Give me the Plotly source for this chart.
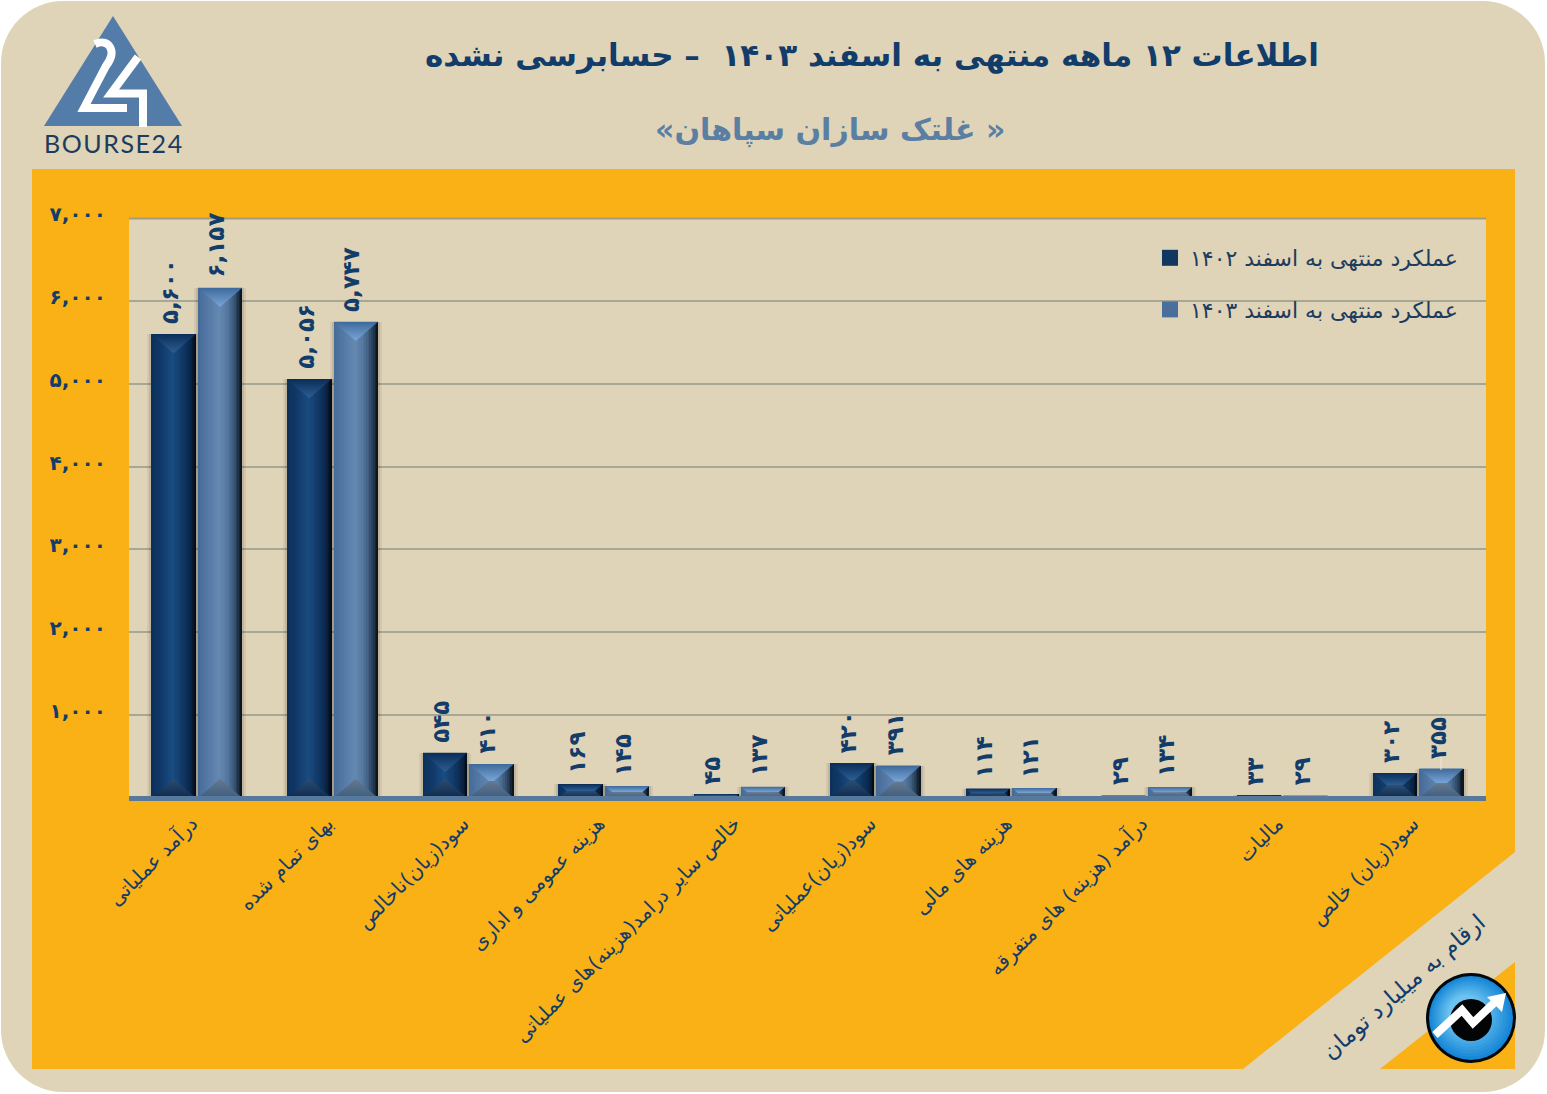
import plotly.graph_objects as go

# ---- data ----
categories = ["درآمد عملیاتی", "بهای تمام شده", "سود(زیان)ناخالص", "هزینه عمومی و اداری",
              "خالص سایر درامد(هزینه)های عملیاتی", "سود(زیان)عملیاتی", "هزینه های مالی",
              "درآمد (هزینه) های متفرقه", "مالیات", "سود(زیان) خالص"]
values_1402 = [5600, 5056, 545, 169, 45, 420, 114, 29, 33, 302]
values_1403 = [6157, 5747, 410, 145, 137, 391, 121, 134, 29, 355]
labels_1402 = ["۵,۶۰۰", "۵,۰۵۶", "۵۴۵", "۱۶۹", "۴۵", "۴۲۰", "۱۱۴", "۲۹", "۳۳", "۳۰۲"]
labels_1403 = ["۶,۱۵۷", "۵,۷۴۷", "۴۱۰", "۱۴۵", "۱۳۷", "۳۹۱", "۱۲۱", "۱۳۴", "۲۹", "۳۵۵"]
y_tick_values = [1000, 2000, 3000, 4000, 5000, 6000, 7000]
y_tick_labels = ["۱,۰۰۰", "۲,۰۰۰", "۳,۰۰۰", "۴,۰۰۰", "۵,۰۰۰", "۶,۰۰۰", "۷,۰۰۰"]
name_1402 = "عملکرد منتهی به اسفند ۱۴۰۲"
name_1403 = "عملکرد منتهی به اسفند ۱۴۰۳"
title_text = "اطلاعات ۱۲ ماهه منتهی به اسفند ۱۴۰۳  – حسابرسی نشده"
subtitle_text = "\u200f« غلتک سازان سپاهان»\u200f"
unit_text = "ارقام به میلیارد تومان"

# ---- page geometry ----
W, H = 1547, 1094
L, R, T, B = 129, 1486, 218, 798
BEIGE, ORANGE, NAVY, STEEL = "#dfd3b8", "#f9b116", "#123c69", "#56799c"
FONT = "DejaVu Sans"
def fx(x): return (x - L) / (R - L)
def fy(y): return (B - y) / (B - T)
def P(*pts):
    return "M" + " L".join(f"{fx(x):.5f},{fy(y):.5f}" for x, y in pts)
def poly(*pts): return P(*pts) + " Z"
def shape(path, fill="rgba(0,0,0,0)", line=None, lw=0):
    return dict(type="path", xref="paper", yref="paper", path=path, fillcolor=fill,
                line=dict(color=line or "rgba(0,0,0,0)", width=lw), layer="below")
def circle(cx, cy, r, fill):
    return dict(type="circle", xref="paper", yref="paper", x0=fx(cx - r), x1=fx(cx + r),
                y0=fy(cy + r), y1=fy(cy - r), fillcolor=fill, line=dict(width=0), layer="above")
def hexrgb(c): return [int(c[i:i + 2], 16) for i in (1, 3, 5)]
def mix(stops, t):
    for (a, ca), (b, cb) in zip(stops, stops[1:]):
        if a <= t <= b:
            k = (t - a) / (b - a)
            return "#%02x%02x%02x" % tuple(round(p + (q - p) * k) for p, q in zip(hexrgb(ca), hexrgb(cb)))
    return stops[-1][1]

def rounded(x0, y0, x1, y1, r):
    c = r * 0.45
    pts = [("M", x0 + r, y0), ("L", x1 - r, y0), ("C", x1 - c, y0, x1, y0 + c, x1, y0 + r),
           ("L", x1, y1 - r), ("C", x1, y1 - c, x1 - c, y1, x1 - r, y1), ("L", x0 + r, y1),
           ("C", x0 + c, y1, x0, y1 - c, x0, y1 - r), ("L", x0, y0 + r),
           ("C", x0, y0 + c, x0 + c, y0, x0 + r, y0)]
    out = ""
    for p in pts:
        coords = p[1:]
        s = " ".join(f"{fx(coords[i]):.5f},{fy(coords[i+1]):.5f}" for i in range(0, len(coords), 2))
        out += f"{p[0]}{s} "
    return out + "Z"

shapes = [
    shape(rounded(1, 1, 1545, 1092, 62), BEIGE),
    shape(poly((32, 169), (1515, 169), (1515, 1069), (32, 1069)), ORANGE),
    shape(poly((1515, 852), (1243, 1069), (1380, 1069), (1515, 962)), BEIGE),
    shape(poly((L, T), (R, T), (R, B), (L, B)), BEIGE),
    shape(P((L, T + .5), (R, T + .5)), line="#a39d80", lw=2),
    # logo
    shape(poly((113, 16), (182, 126), (44, 126)), "#537ca8"),
    shape(f"M{fx(95):.5f},{fy(44):.5f} C{fx(108):.5f},{fy(38):.5f} {fx(118):.5f},{fy(50):.5f} {fx(106):.5f},{fy(66):.5f} "
          f"L{fx(84):.5f},{fy(108):.5f} L{fx(127):.5f},{fy(108):.5f}", line="#ffffff", lw=8),
    shape(P((138, 57), (111, 93.5), (147, 93.5)), line="#ffffff", lw=8),
    shape(P((143, 90), (143, 127)), line="#ffffff", lw=8),
    # baseline thickening that covers the feet of the bars
    dict(type="rect", xref="paper", yref="paper", x0=0, x1=1, y0=fy(798.5), y1=fy(796),
         fillcolor=STEEL, line=dict(width=0), layer="above"),
    # small leader line of the last label
    dict(type="line", xref="paper", yref="paper", x0=fx(1441), x1=fx(1441), y0=fy(770), y1=fy(757),
         line=dict(color="#efe9da", width=1), layer="above"),
    # icon
    circle(1471, 1018, 45, "#04070b"),
]
icon_stops = [(0, "#6cc3ef"), (1, "#1787d8")]
for k in range(10):
    t = k / 9
    r = 42 - 24 * t
    shapes.append(circle(1471 - 5 * t, 1018 - 5 * t, r, mix(icon_stops, 1 - t)))
shapes += [
    circle(1471, 1020, 21, "#030405"),
    dict(type="path", xref="paper", yref="paper", layer="above", fillcolor="rgba(0,0,0,0)",
         path=P((1435, 1035), (1462, 1010), (1473, 1023), (1496, 1001)), line=dict(color="#ffffff", width=8)),
    dict(type="path", xref="paper", yref="paper", layer="above", fillcolor="#ffffff",
         path=poly((1487, 997), (1506, 993), (1502, 1012)), line=dict(width=0)),
]

# ---- bars ----
PX = 7000 / (B - T)              # data units per pixel
UNIT = (R - L) / len(categories) # pixels per category
BAR_W = 44.5 / UNIT
OFFSET = 23.25 / UNIT
N_STRIPS = 26

styles = {
    "1402": dict(stops=[(0, "#0c2f59"), (.25, "#113b6c"), (.48, "#1a4c80"), (.68, "#113a69"),
                        (.84, "#0b2a50"), (.93, "#081c36"), (1, "#040a14")],
                 top=("#2d5f94", "#0a2d58"), bottom=("#0d2a4e", "#2c4d70")),
    "1403": dict(stops=[(0, "#456a97"), (.25, "#567ba7"), (.48, "#6588b1"), (.66, "#54789f"),
                        (.8, "#3b5a7c"), (.9, "#203549"), (1, "#080f18")],
                 top=("#7aa5d8", "#3e6a9b"), bottom=("#3d5d80", "#66798f")),
}

fig = go.Figure()

def add_series(vals, sign, style):
    xs = [i + sign * OFFSET for i in range(len(vals))]
    # soft shadow
    for extra, alpha in ((8, .05), (4, .09)):
        fig.add_bar(x=xs, y=vals, width=(44.5 + extra) / UNIT, marker=dict(color=f"rgba(0,0,0,{alpha})", line_width=0),
                    showlegend=False, hoverinfo="skip")
    # horizontal shading of the bar body
    for k in range(N_STRIPS):
        start = k / N_STRIPS
        colour = mix(style["stops"], start + .5 / N_STRIPS)
        fig.add_bar(x=[x + (start + (1 - start) / 2 - .5) * BAR_W for x in xs], y=vals,
                    width=(1 - start) * BAR_W, marker=dict(color=colour, line_width=0),
                    showlegend=False, hoverinfo="skip")
    # bevelled facets at the top and bottom of each bar, derived from its value
    half = BAR_W / 2
    for x, v in zip(xs, vals):
        h_px = v / PX
        d_px = min(19, h_px / 2)
        dy = d_px * PX
        dx = d_px * 22 / 19 / UNIT
        scale_top = [[0, style["top"][0]], [1, style["top"][1]]]
        scale_bot = [[0, style["bottom"][0]], [1, style["bottom"][1]]]
        fig.add_scatter(x=[x - half, x + half, x + half - dx, x - half + dx, x - half],
                        y=[v, v, v - dy, v - dy, v], mode="none", fill="toself",
                        fillgradient=dict(type="vertical", colorscale=scale_top),
                        showlegend=False, hoverinfo="skip")
        fig.add_scatter(x=[x - half, x + half, x + half - dx, x - half + dx, x - half],
                        y=[0, 0, dy, dy, 0], mode="none", fill="toself",
                        fillgradient=dict(type="vertical", colorscale=scale_bot),
                        showlegend=False, hoverinfo="skip")

add_series(values_1402, -1, styles["1402"])
add_series(values_1403, +1, styles["1403"])

# legend entries
fig.add_scatter(x=[None], y=[None], mode="markers", name=name_1402, legendgroup="a",
                marker=dict(symbol="square", size=16, color="#12365f"))
fig.add_scatter(x=[None], y=[None], mode="markers", name=name_1403, legendgroup="b",
                marker=dict(symbol="square", size=16, color="#4a6f9c"))

# value labels
annotations = []
for vals, labels, sign in ((values_1402, labels_1402, -1), (values_1403, labels_1403, 1)):
    for i, (v, t) in enumerate(zip(vals, labels)):
        annotations.append(dict(x=i + sign * OFFSET, y=v, xref="x", yref="y", text=t, textangle=-90,
                                showarrow=False, yanchor="bottom", xanchor="center", yshift=8, xshift=-4,
                                font=dict(family=FONT, size=23, color=NAVY, weight="bold")))

annotations += [
    dict(x=fx(830), y=fy(130), xref="paper", yref="paper", text=subtitle_text, showarrow=False,
         xanchor="center", yanchor="middle",
         font=dict(family=FONT, size=30, color="#5b7fa3", weight="bold")),
    dict(x=fx(113), y=fy(143), xref="paper", yref="paper", text="\u200a".join("BOURSE24"), showarrow=False,
         xanchor="center", yanchor="middle",
         font=dict(family="Lato", size=25, color="#1d3c5c")),
    dict(x=fx(1403), y=fy(987), xref="paper", yref="paper", text=unit_text, showarrow=False, textangle=-41,
         xanchor="center", yanchor="middle",
         font=dict(family=FONT, size=23, color=NAVY)),
]

fig.update_layout(
    width=W, height=H, barmode="overlay", bargap=0,
    margin=dict(l=L, r=W - R, t=T, b=H - B, pad=0, autoexpand=False),
    paper_bgcolor="#ffffff", plot_bgcolor="rgba(0,0,0,0)",
    shapes=shapes, annotations=annotations,
    title=dict(text=title_text, xref="container", yref="container", x=872 / W, y=1 - 55 / H,
               xanchor="center", yanchor="middle", font=dict(family=FONT, size=31, color=NAVY, weight="bold")),
    xaxis=dict(range=[-.5, 9.5], tickmode="array", tickvals=list(range(10)), ticktext=categories,
               tickangle=-45, showgrid=False, zeroline=False, showline=True, linecolor=STEEL, linewidth=3,
               ticks="", ticklen=0, ticklabelstandoff=3, ticklabelshift=-5,
               tickfont=dict(family=FONT, size=20, color=NAVY)),
    yaxis=dict(range=[0, 7000], tickmode="array", tickvals=y_tick_values, ticktext=y_tick_labels,
               showgrid=True, gridcolor="#a8a794", gridwidth=2, zeroline=False, showline=False, ticks="",
               ticklabelstandoff=22, ticklabelshift=-4,
               tickfont=dict(family=FONT, size=20, color=NAVY, weight="bold")),
    legend=dict(x=fx(1150), y=fy(237), xanchor="left", yanchor="top", bgcolor="rgba(0,0,0,0)",
                tracegroupgap=20, font=dict(family=FONT, size=22, color="#1c3c5e"), itemsizing="trace"),
)

fig.write_html("out.html", config=dict(displayModeBar=False),
               post_script="document.body.style.margin='0';document.body.style.overflow='hidden';")
